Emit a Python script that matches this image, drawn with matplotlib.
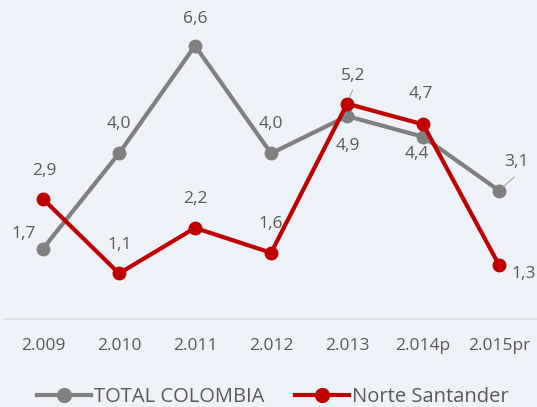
import matplotlib
matplotlib.use('Agg')
import matplotlib.pyplot as plt

years = ['2.009', '2.010', '2.011', '2.012', '2.013', '2.014p', '2.015pr']
total_colombia = [1.7, 4.0, 6.6, 4.0, 4.9, 4.4, 3.1]
norte_santander = [2.9, 1.1, 2.2, 1.6, 5.2, 4.7, 1.3]

# label offsets in pixels (dx, dy) relative to the point
off_total = [(-19, 15), (0, 29), (0, 27), (0, 29), (1, -30), (-6, -17), (17, 29)]
off_norte = [(1, 28), (1, 28), (0, 29), (0, 29), (6, 28), (-2, 30), (25, -9)]

bg = '#eef1f7'
txt = '#595959'
gray = '#808080'
red = '#c00000'

plt.rcParams['font.family'] = ['Open Sans', 'DejaVu Sans']

fig = plt.figure(figsize=(5.37, 4.07), dpi=100, facecolor=bg)
ax = fig.add_axes([0.0093, 0.2162, 0.991, 0.763], facecolor=bg)
x = list(range(len(years)))
ax.plot(x, total_colombia, '-o', color=gray, lw=3, ms=9, label='TOTAL COLOMBIA', zorder=3)
ax.plot(x, norte_santander, '-o', color=red, lw=3, ms=9, label='Norte Santander', zorder=4)
ax.set_xlim(-0.5, 6.5)
ax.set_ylim(0, 7.5)

for xi, yi, (dx, dy) in zip(x, total_colombia, off_total):
    ax.annotate(f'{yi:.1f}'.replace('.', ','), (xi, yi), xytext=(dx * 0.72, dy * 0.72),
                textcoords='offset points', ha='center', va='center', fontsize=12.5, color=txt)
for xi, yi, (dx, dy) in zip(x, norte_santander, off_norte):
    ax.annotate(f'{yi:.1f}'.replace('.', ','), (xi, yi), xytext=(dx * 0.72, dy * 0.72),
                textcoords='offset points', ha='center', va='center', fontsize=12.5, color=txt)

# leader lines
ax.annotate('', (6, total_colombia[6]), xytext=(11, 10), textcoords='offset points',
            arrowprops=dict(arrowstyle='-', color='#a6a6a6', lw=0.8, shrinkA=0, shrinkB=4))
ax.annotate('', (4, norte_santander[4]), xytext=(4, 10), textcoords='offset points',
            arrowprops=dict(arrowstyle='-', color='#a6a6a6', lw=0.8, shrinkA=0, shrinkB=4))

for s in ['top', 'right', 'left']:
    ax.spines[s].set_visible(False)
ax.spines['bottom'].set_color('#d9d9d9')
ax.spines['bottom'].set_linewidth(1.2)
ax.set_yticks([])
ax.set_xticks(x)
ax.set_xticklabels(years, fontsize=12.5, color=txt)
ax.tick_params(axis='x', length=0, pad=14)

fig.legend(loc='center', bbox_to_anchor=(0.508, 0.024), ncol=2, frameon=False,
           fontsize=14.5, labelcolor=txt, handlelength=2.7, handletextpad=0.15,
           columnspacing=1.5, markerscale=1.1)

fig.savefig('out.png', dpi=100, facecolor=bg)
